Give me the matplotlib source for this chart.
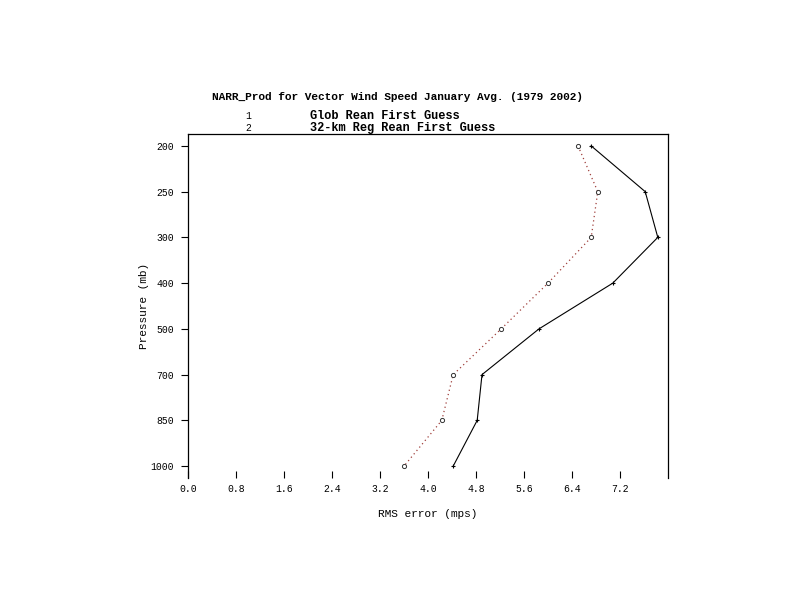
import matplotlib

matplotlib.use("Agg")

import matplotlib.pyplot as plt
import numpy as np

# pressure levels (mb), plotted on an evenly spaced category axis
levels = ["200", "250", "300", "400", "500", "700", "850", "1000"]
glob_rms = [6.72, 7.62, 7.83, 7.08, 5.85, 4.90, 4.82, 4.42]
reg_rms = [6.50, 6.83, 6.72, 6.00, 5.22, 4.42, 4.23, 3.60]
x_ticks = [0.0, 0.8, 1.6, 2.4, 3.2, 4.0, 4.8, 5.6, 6.4, 7.2]

TITLE = "NARR_Prod for Vector Wind Speed January Avg. (1979 2002)"
FONT = "Liberation Mono"

fig = plt.figure(figsize=(7.94, 5.95), dpi=100)
ax = fig.add_axes([188 / 794, 1 - 478 / 595, 480 / 794, 344 / 595])

y = np.arange(len(levels))
ax.plot(glob_rms, y, color="black", lw=0.8, marker="+", ms=3.5, mew=0.8)
ax.plot(reg_rms, y, color="#a0403c", lw=0.9, ls=(0, (1, 2.5)),
        marker="o", ms=3, mfc="white", mec="#333333", mew=0.7)

ax.set_xlim(0, 8)
ax.set_ylim(len(levels) - 1 + 0.26, -0.26)
ax.set_xticks(x_ticks, [f"{v:.1f}" for v in x_ticks])
ax.set_yticks(y, levels)
for lab in ax.get_xticklabels() + ax.get_yticklabels():
    lab.set_fontfamily(FONT)
    lab.set_fontsize(7)
ax.tick_params(axis="x", direction="in", length=5, width=0.8, pad=4)
ax.tick_params(axis="y", direction="out", length=5, width=0.8, pad=5)
ax.spines["bottom"].set_visible(False)
for side in ["top", "left", "right"]:
    ax.spines[side].set_linewidth(0.9)

ax.set_xlabel("RMS error (mps)", fontfamily=FONT, fontsize=8, labelpad=11)
ax.set_ylabel("Pressure (mb)", fontfamily=FONT, fontsize=8, labelpad=1)

fig.text(0.5, 1 - 97 / 595, TITLE, ha="center", va="center",
         fontfamily=FONT, fontsize=8, fontweight="bold")
fig.text(248 / 794, 1 - 116 / 595, "1", ha="center", va="center",
         fontfamily=FONT, fontsize=7)
fig.text(310 / 794, 1 - 116 / 595, "Glob Rean First Guess", ha="left",
         va="center", fontfamily=FONT, fontsize=8.6, fontweight="bold")
fig.text(248 / 794, 1 - 128 / 595, "2", ha="center", va="center",
         fontfamily=FONT, fontsize=7)
fig.text(310 / 794, 1 - 128 / 595, "32-km Reg Rean First Guess", ha="left",
         va="center", fontfamily=FONT, fontsize=8.6, fontweight="bold")

fig.savefig("out.png", dpi=100, facecolor="white")
plt.close(fig)
